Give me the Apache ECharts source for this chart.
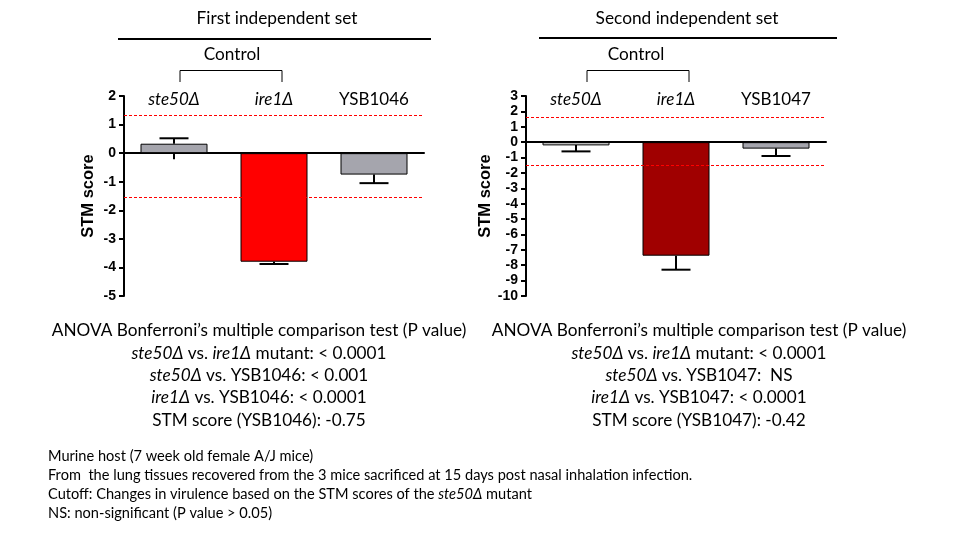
<!DOCTYPE html>
<html><head><meta charset="utf-8">
<script src="https://cdn.jsdelivr.net/npm/echarts@6/dist/echarts.min.js"></script>
<style>html,body{margin:0;padding:0;background:#fff}#c{width:960px;height:535px}</style>
</head><body><div id="c"></div>
<script>
// ---- data ----
const categories1 = ['ste50Δ', 'ire1Δ', 'YSB1046'];
const categories2 = ['ste50Δ', 'ire1Δ', 'YSB1047'];
const italicCats = ['ste50Δ', 'ire1Δ'];
const values1 = [0.33, -3.80, -0.75];
const errors1 = [0.19, 0.08, 0.30];
const values2 = [-0.21, -7.38, -0.42];
const errors2 = [0.39, 0.91, 0.48];
const cutoffs1 = [1.31, -1.565];
const cutoffs2 = [1.59, -1.51];
const yTicks1 = { min: -5, max: 2, interval: 1 };
const yTicks2 = { min: -10, max: 3, interval: 1 };
const colors1 = ['#a5a5ad', '#ff0000', '#a5a5ad'];
const colors2 = ['#dcdcdc', '#a00000', '#a5a5ad'];

const TXT = 'Lato, "Open Sans", sans-serif';
const NUM = '"Liberation Sans", Arial, sans-serif';

function catFormatter(v) {
  return italicCats.indexOf(v) >= 0 ? '{i|' + v + '}' : '{n|' + v + '}';
}
const catRich = {
  i: { fontFamily: TXT, fontStyle: 'italic', fontSize: 17, color: '#000' },
  n: { fontFamily: TXT, fontSize: 17, color: '#000' }
};

function yAxisCfg(g, t) {
  return {
    type: 'value', gridIndex: g, min: t.min, max: t.max, interval: t.interval,
    name: 'STM score', nameLocation: 'middle', nameGap: 27, nameRotate: 90,
    nameTextStyle: { fontFamily: NUM, fontWeight: 'bold', fontSize: 16.5, color: '#000' },
    axisLine: { show: true, lineStyle: { color: '#000', width: 2 } },
    axisTick: { show: true, length: 5, lineStyle: { color: '#000', width: 2 } },
    axisLabel: { fontFamily: NUM, fontWeight: 'bold', fontSize: 14, color: '#000', margin: 8 },
    splitLine: { show: false }
  };
}
function xAxisZero(g, cats) {
  return {
    type: 'category', gridIndex: g, data: cats, position: 'bottom',
    axisLine: { show: true, onZero: true, lineStyle: { color: '#000', width: 2 } },
    axisTick: { show: true, alignWithLabel: true, length: 6, lineStyle: { color: '#000', width: 2 } },
    axisLabel: { show: false }, splitLine: { show: false }
  };
}
function xAxisTop(g, cats) {
  return {
    type: 'category', gridIndex: g, data: cats, position: 'top',
    axisLine: { show: false, onZero: false }, axisTick: { show: false },
    axisLabel: { show: true, margin: -12, formatter: catFormatter, rich: catRich },
    splitLine: { show: false }
  };
}
function barSeries(ai, vals, cols, cuts) {
  return {
    type: 'bar', xAxisIndex: ai, yAxisIndex: ai / 2 | 0, barWidth: '67%',
    data: vals.map((v, i) => ({ value: v, itemStyle: { color: cols[i] } })),
    itemStyle: { borderColor: '#000', borderWidth: 1 },
    emphasis: { disabled: true }, silent: true, z: 2,
    markLine: {
      silent: true, symbol: 'none', label: { show: false },
      lineStyle: { color: '#ff0000', type: [3, 2], width: 1 },
      data: cuts.map(c => ({ yAxis: c }))
    }
  };
}
function errSeries(ai, vals, errs) {
  return {
    type: 'custom', xAxisIndex: ai, yAxisIndex: ai / 2 | 0, silent: true, z: 3,
    data: vals.map((v, i) => [i, v, v + (v >= 0 ? 1 : -1) * errs[i]]),
    renderItem: function (params, api) {
      const a = api.coord([api.value(0), api.value(1)]);
      const b = api.coord([api.value(0), api.value(2)]);
      const hw = api.size([1, 0])[0] * 0.145;
      const st = { stroke: '#000', lineWidth: 2 };
      return { type: 'group', children: [
        { type: 'line', shape: { x1: a[0], y1: a[1], x2: b[0], y2: b[1] }, style: st },
        { type: 'line', shape: { x1: b[0] - hw, y1: b[1], x2: b[0] + hw, y2: b[1] }, style: st }
      ]};
    }
  };
}

function txt(x, y, text, size, align, rich) {
  return { type: 'text', x: x, y: y, silent: true,
    style: { text: text, fontFamily: TXT, fontSize: size, fill: '#000', align: align || 'center', verticalAlign: 'middle', rich: rich } };
}
function ln(x1, y1, x2, y2, w) {
  return { type: 'line', silent: true, shape: { x1, y1, x2, y2 }, style: { stroke: '#000', lineWidth: w || 1 } };
}
function poly(points) {
  return { type: 'polyline', silent: true, shape: { points }, style: { stroke: '#000', lineWidth: 1, fill: null } };
}
const B = 17.2, F = 14.6;
const RB = { i: { fontFamily: TXT, fontStyle: 'italic', fontSize: B }, n: { fontFamily: TXT, fontSize: B } };
const RF = { i: { fontFamily: TXT, fontStyle: 'italic', fontSize: F }, n: { fontFamily: TXT, fontSize: F } };

const chart = echarts.init(document.getElementById('c'), null, { renderer: 'canvas' });
chart.setOption({
  animation: false,
  backgroundColor: '#fff',
  grid: [
    { left: 124, top: 96, width: 300, height: 200 },
    { left: 526, top: 96, width: 300, height: 200 }
  ],
  xAxis: [xAxisZero(0, categories1), xAxisTop(0, categories1), xAxisZero(1, categories2), xAxisTop(1, categories2)],
  yAxis: [yAxisCfg(0, yTicks1), yAxisCfg(1, yTicks2)],
  series: [
    barSeries(0, values1, colors1, cutoffs1), errSeries(0, values1, errors1),
    barSeries(2, values2, colors2, cutoffs2), errSeries(2, values2, errors2)
  ],
  graphic: [
    txt(277, 18, 'First independent set', 17.3),
    ln(118, 39, 431, 39, 2),
    txt(232, 54, 'Control', 17.2),
    poly([[180, 82], [180, 70.5], [282, 70.5], [282, 82]]),
    txt(687, 18, 'Second independent set', 17.3),
    ln(539, 38, 837, 38, 2),
    txt(636, 54, 'Control', 17.2),
    poly([[587, 82], [587, 70.5], [689, 70.5], [689, 82]]),

    txt(259, 330, 'ANOVA Bonferroni’s multiple comparison test (P value)', B),
    txt(259, 353, '{i|ste50Δ}{n| vs. }{i|ire1Δ}{n| mutant: < 0.0001}', B, 'center', RB),
    txt(259, 375, '{i|ste50Δ}{n| vs. YSB1046: < 0.001}', B, 'center', RB),
    txt(259, 397, '{i|ire1Δ}{n| vs. YSB1046: < 0.0001}', B, 'center', RB),
    txt(259, 420, 'STM score (YSB1046): -0.75', B),

    txt(699, 330, 'ANOVA Bonferroni’s multiple comparison test (P value)', B),
    txt(699, 353, '{i|ste50Δ}{n| vs. }{i|ire1Δ}{n| mutant: < 0.0001}', B, 'center', RB),
    txt(699, 375, '{i|ste50Δ}{n| vs. YSB1047:  NS}', B, 'center', RB),
    txt(699, 397, '{i|ire1Δ}{n| vs. YSB1047: < 0.0001}', B, 'center', RB),
    txt(699, 420, 'STM score (YSB1047): -0.42', B),

    txt(48, 456, 'Murine host (7 week old female A/J mice)', F, 'left'),
    txt(48, 475, 'From  the lung tissues recovered from the 3 mice sacrificed at 15 days post nasal inhalation infection.', F, 'left'),
    txt(48, 494, '{n|Cutoff: Changes in virulence based on the STM scores of the }{i|ste50Δ}{n| mutant}', F, 'left', RF),
    txt(48, 513, 'NS: non-significant (P value > 0.05)', F, 'left')
  ]
});
</script>
</body></html>
